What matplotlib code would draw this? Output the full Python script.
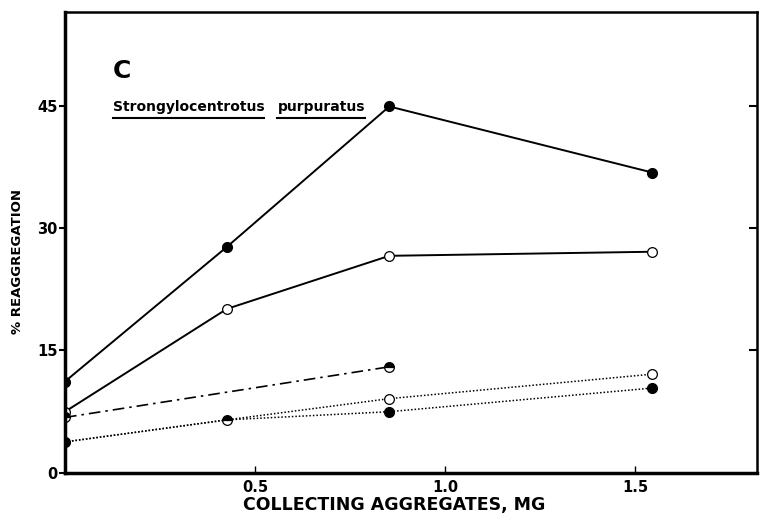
import matplotlib
matplotlib.use('Agg')
import matplotlib.pyplot as plt

# collecting aggregates (mg) used in each assay
dose = [0.0, 0.426, 0.853, 1.545]
dose_short = [0.0, 0.853]

# % reaggregation
solid_filled = [11.2, 27.7, 44.9, 36.8]
solid_open = [7.5, 20.1, 26.6, 27.1]
dashdot_half = [6.8, 13.0]
dotted_open = [3.8, 6.5, 9.1, 12.1]
dotted_filled = [3.8, 6.5, 7.5, 10.4]

yticks = [0, 15, 30, 45]
ytick_labels = ['0', '15', '30', '45']
xticks = [0.5, 1.0, 1.5]
xtick_labels = ['0.5', '1.0', '1.5']

plt.rcParams['font.family'] = ['DejaVu Sans']
plt.rcParams['font.weight'] = 'bold'

fig = plt.figure(figsize=(7.6, 5.24), dpi=100)
ax = fig.add_axes([0.0855, 0.0975, 0.9105, 0.88])

# solid lines
ax.plot(dose, solid_filled, '-', color='black', lw=1.4,
        marker='o', ms=7, mfc='black', mec='black')
ax.plot(dose, solid_open, '-', color='black', lw=1.4,
        marker='o', ms=7, mfc='white', mec='black', mew=0.9)

# dash-dot line
ax.plot(dose_short, dashdot_half, color='black', lw=1.2, ls=(0, (7, 3, 1.5, 3)),
        marker='o', ms=7, fillstyle='top', mfc='black', mfcalt='white',
        mec='black', mew=0.9)

# dotted lines
ax.plot(dose, dotted_open, color='black', lw=1.1, ls=(0, (1, 1.3)),
        marker='o', ms=7, mfc='white', mec='black', mew=0.9, markevery=[2, 3])
ax.plot(dose, dotted_filled, color='black', lw=1.1, ls=(0, (1, 1.3)),
        marker='o', ms=7, mfc='black', mec='black', markevery=[0, 2, 3])
ax.plot(dose[1:2], dotted_filled[1:2], 'o', ms=7, fillstyle='top',
        mfc='black', mfcalt='white', mec='black', mew=0.9)

ax.set_xlim(0, 1.82)
ax.set_ylim(0, 56.5)
ax.set_xticks(xticks)
ax.set_xticklabels(xtick_labels)
ax.set_yticks(yticks)
ax.set_yticklabels(ytick_labels)
ax.tick_params(axis='x', direction='in', length=5, width=1, labelsize=10.5, pad=5)
ax.tick_params(axis='y', direction='out', length=4, width=1.5, labelsize=10.5, pad=1.5)

for side in ['left', 'bottom']:
    ax.spines[side].set_linewidth(2.5)
for side in ['top', 'right']:
    ax.spines[side].set_linewidth(1.8)

# inward ticks on the right-hand frame
right = ax.secondary_yaxis('right')
right.set_yticks(yticks[1:])
right.tick_params(direction='in', length=6, width=1.5, labelright=False)
right.spines['right'].set_visible(False)

# panel letter and species name
ax.text(0.069, 0.872, 'C', transform=ax.transAxes, fontsize=18,
        fontweight='bold', va='center', ha='left')
words = [ax.text(0.069, 0.785, 'Strongylocentrotus', transform=ax.transAxes,
                 fontsize=10, fontweight='bold', va='baseline'),
         ax.text(0.307, 0.785, 'purpuratus', transform=ax.transAxes,
                 fontsize=10, fontweight='bold', va='baseline')]

fig.canvas.draw()
renderer = fig.canvas.get_renderer()
inv = ax.transAxes.inverted()
for w in words:
    bb = w.get_window_extent(renderer)
    x0 = inv.transform((bb.x0, 0))[0]
    x1 = inv.transform((bb.x1, 0))[0]
    ax.plot([x0, x1], [0.770, 0.770], color='black', lw=1.5,
            transform=ax.transAxes, clip_on=False)

fig.text(0.519, 0.036, 'COLLECTING AGGREGATES, MG', ha='center', va='center',
         fontsize=12.5, fontweight='bold')
fig.text(0.023, 0.5, '% REAGGREGATION', ha='center', va='center',
         rotation=90, fontsize=9.5, fontweight='bold')

fig.savefig('out.png', dpi=100)
